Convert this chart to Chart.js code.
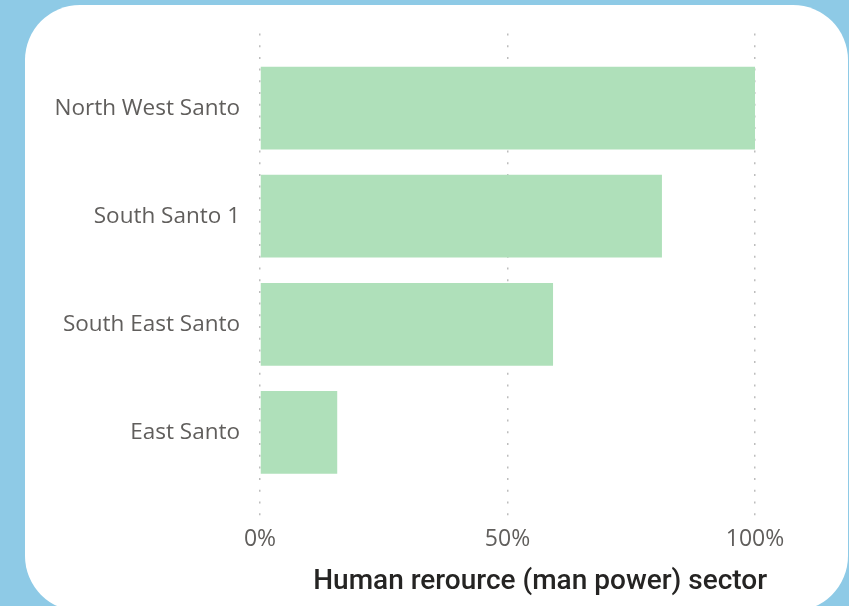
<!DOCTYPE html>
<html>
<head>
<meta charset="utf-8">
<script src="https://cdn.jsdelivr.net/npm/chart.js@4.4.1/dist/chart.umd.min.js"></script>
<style>
  html, body { margin: 0; padding: 0; width: 849px; height: 606px; overflow: hidden; background: #8ecae6; }
  #card { position: absolute; left: 25px; top: 5px; width: 823px; height: 606px; background: #ffffff; border-radius: 55px; }
  #wrap { position: absolute; left: 0; top: 0; width: 849px; height: 606px; }
</style>
</head>
<body>
<div id="card"></div>
<div id="wrap"><canvas id="c" width="849" height="606"></canvas></div>
<script>
const categories = ['North West Santo', 'South Santo 1', 'South East Santo', 'East Santo'];
const values = [100, 81.2, 59.2, 15.6];
const xTickValues = [0, 50, 100];
const axisTitle = 'Human rerource (man power) sector';

const titlePlugin = {
  id: 'bottomTitle',
  afterDraw(chart) {
    const ctx = chart.ctx;
    const area = chart.chartArea;
    ctx.save();
    ctx.font = '500 28px Roboto';
    ctx.fillStyle = '#252423';
    ctx.textAlign = 'center';
    ctx.textBaseline = 'alphabetic';
    ctx.fillText(axisTitle, area.left + (area.right - area.left) * 0.566, area.bottom + 69);
    ctx.restore();
  }
};

const Y_MIN = -0.69, Y_MAX = 3.81;

new Chart(document.getElementById('c'), {
  type: 'bar',
  data: {
    datasets: [{
      data: values.map((v, i) => ({ x: v, y: i })),
      backgroundColor: '#afe0ba',
      borderWidth: 0,
      barPercentage: 0.766,
      categoryPercentage: 1
    }]
  },
  options: {
    indexAxis: 'y',
    responsive: false,
    animation: false,
    layout: { padding: { left: 0, right: 94, top: 31, bottom: 46 } },
    plugins: { legend: { display: false }, tooltip: { enabled: false }, title: { display: false } },
    scales: {
      x: {
        type: 'linear',
        min: 0, max: 100,
        afterBuildTicks: s => { s.ticks = xTickValues.map(v => ({ value: v })); },
        afterFit: s => { s.height = 40; },
        ticks: { padding: 6, color: '#605e5c', font: { family: 'Open Sans', size: 23 }, callback: v => v + '%' },
        grid: { color: '#bdbdbd', lineWidth: 1.5, drawTicks: false },
        border: { display: false, dash: [2, 9.7] }
      },
      y: {
        type: 'linear',
        reverse: true,
        offset: false,
        bounds: 'data',
        grace: 0,
        min: Y_MIN, max: Y_MAX,
        afterDataLimits: s => { s.min = Y_MIN; s.max = Y_MAX; },
        afterBuildTicks: s => { s.ticks = categories.map((_, i) => ({ value: i })); s.min = Y_MIN; s.max = Y_MAX; },
        afterFit: s => { s.width = 260; },
        ticks: { padding: 20, autoSkip: false, color: '#605e5c', font: { family: 'Open Sans', size: 22.5 }, callback: v => categories[v] },
        grid: { display: false, drawTicks: false, offset: false },
        border: { display: false }
      }
    }
  },
  plugins: [titlePlugin]
});
</script>
</body>
</html>
